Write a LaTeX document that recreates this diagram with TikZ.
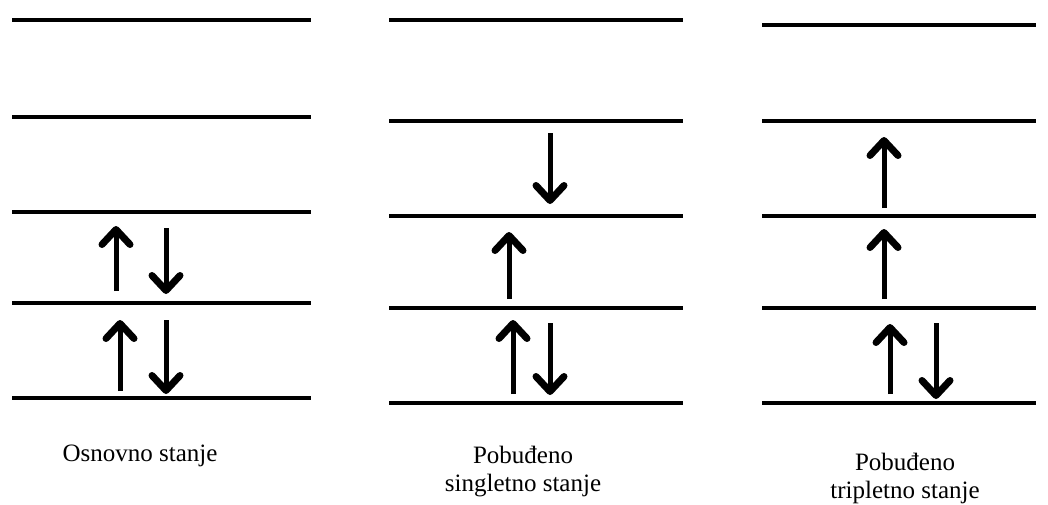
\documentclass[tikz,border=0pt]{standalone}
\usepackage{fontspec}
\setmainfont{Liberation Serif}
\usetikzlibrary{arrows.meta}

\begin{document}
\begin{tikzpicture}[x=1pt,y=-1pt,
                    level/.style={line width=4pt},
                    spin/.style={line width=5pt,-{Straight Barb[round,length=15pt,width=28pt,line width=7pt]}},
                    label/.style={align=center,font=\fontsize{25}{28}\selectfont}]

\useasboundingbox (0,0) rectangle (1048,504);

% osnovno stanje
\draw[level] (12,20)  -- (311,20);
\draw[level] (12,117) -- (311,117);
\draw[level] (12,212) -- (311,212);
\draw[level] (12,303) -- (311,303);
\draw[level] (12,398) -- (311,398);
\draw[spin] (116,291) -- (116,226);
\draw[spin] (166,228) -- (166,294);
\draw[spin] (120,391) -- (120,320);
\draw[spin] (166,320) -- (166,394);

% singletno stanje
\draw[level] (389,20)  -- (683,20);
\draw[level] (389,121) -- (683,121);
\draw[level] (389,216) -- (683,216);
\draw[level] (389,308) -- (683,308);
\draw[level] (389,403) -- (683,403);
\draw[spin] (550,133) -- (550,204);
\draw[spin] (509,299) -- (509,232);
\draw[spin] (513,394) -- (513,320);
\draw[spin] (550,323) -- (550,395);

% tripletno stanje
\draw[level] (762,25)  -- (1036,25);
\draw[level] (762,121) -- (1036,121);
\draw[level] (762,216) -- (1036,216);
\draw[level] (762,308) -- (1036,308);
\draw[level] (762,403) -- (1036,403);
\draw[spin] (884,208) -- (884,137);
\draw[spin] (884,299) -- (884,229);
\draw[spin] (890,394) -- (890,324);
\draw[spin] (936,323) -- (936,399);

\node[label] (osn) at (140,456) {Osnovno stanje};
\node[label] (sing) at (523,472) {Pobuđeno\\singletno stanje};
\node[label] (trip) at (905,478) {Pobuđeno\\tripletno stanje};
\end{tikzpicture}
\end{document}
